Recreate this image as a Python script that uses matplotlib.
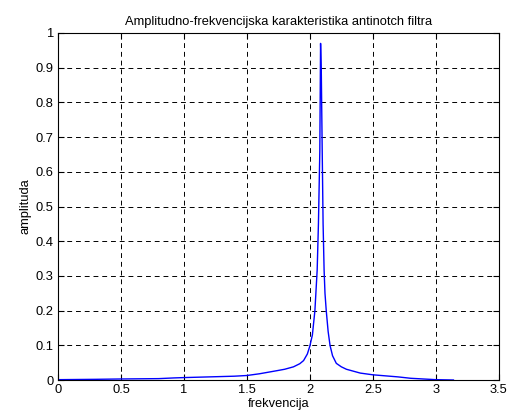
import matplotlib
matplotlib.use('Agg')
import matplotlib.pyplot as plt

# amplitude response
freq = [0.0, 0.3, 0.5, 0.8, 0.92, 1.0, 1.2, 1.4, 1.5, 1.6, 1.74, 1.8, 1.87,
        1.92, 1.95, 1.98, 2.0, 2.02, 2.04, 2.058, 2.068, 2.079, 2.085,
        2.091, 2.098, 2.105, 2.113, 2.12, 2.13, 2.145, 2.16, 2.18, 2.21,
        2.25, 2.29, 2.4, 2.5, 2.6, 2.7, 2.8, 2.9, 3.0, 3.14]
amp = [0.001, 0.002, 0.003, 0.004, 0.006, 0.007, 0.009, 0.011, 0.013, 0.018,
       0.027, 0.031, 0.038, 0.047, 0.056, 0.075, 0.098, 0.13, 0.2, 0.317,
       0.45, 0.66, 0.97, 0.88, 0.66, 0.45, 0.317, 0.25, 0.2, 0.14, 0.1,
       0.07, 0.048, 0.038, 0.031, 0.02, 0.015, 0.012, 0.009, 0.005, 0.003,
       0.001, 0.0]

xticks = [0, 0.5, 1, 1.5, 2, 2.5, 3, 3.5]
yticks = [0, 0.1, 0.2, 0.3, 0.4, 0.5, 0.6, 0.7, 0.8, 0.9, 1]

plt.rcParams['font.family'] = ['Liberation Sans', 'DejaVu Sans']
plt.rcParams['font.size'] = 9.3

fig = plt.figure(figsize=(5.1, 4.15), dpi=100)
ax = fig.add_axes([0.1137, 0.0843, 0.8643, 0.8362])
ax.plot(freq, amp, color='blue', linewidth=1)
ax.set_xlim(0, 3.5)
ax.set_ylim(0, 1)
ax.set_xticks(xticks)
ax.set_xticklabels(['0', '0.5', '1', '1.5', '2', '2.5', '3', '3.5'])
ax.set_yticks(yticks)
ax.set_yticklabels(['0', '0.1', '0.2', '0.3', '0.4', '0.5', '0.6', '0.7', '0.8', '0.9', '1'])
ax.tick_params(direction='in', length=4, top=True, right=True, width=0.8, pad=3)
ax.grid(True, color='black', linestyle=(0, (5, 4)), linewidth=0.7)
for s in ax.spines.values():
    s.set_linewidth(0.8)
ax.set_title('Amplitudno-frekvencijska karakteristika antinotch filtra', fontsize=9.3, pad=6)
ax.set_xlabel('frekvencija', labelpad=1)
ax.set_ylabel('amplituda', labelpad=3)

fig.savefig('out.png', dpi=100)
